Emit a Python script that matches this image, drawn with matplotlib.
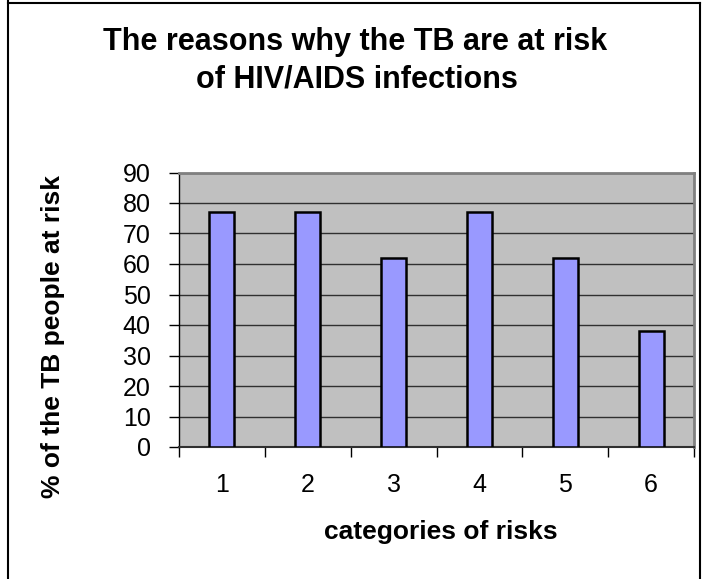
import matplotlib
matplotlib.use("Agg")
import matplotlib.pyplot as plt
from matplotlib.lines import Line2D

categories = ["1", "2", "3", "4", "5", "6"]
values = [77, 77, 62, 77, 62, 38]
yticks = [0, 10, 20, 30, 40, 50, 60, 70, 80, 90]
title_lines = ["The reasons why the TB are at risk", "of HIV/AIDS infections"]
xlabel = "categories of risks"
ylabel = "% of the TB people at risk"

plt.rcParams['font.family'] = ['Liberation Sans', 'DejaVu Sans']

W, H = 705, 579
fig = plt.figure(figsize=(W / 100, H / 100), dpi=100)
fig.patch.set_facecolor('white')

# chart outer border (left, top, right)
for xs, ys in [([8, 8], [0, 579]), ([8, 700], [2.5, 2.5]), ([700, 700], [2.5, 579])]:
    fig.add_artist(Line2D([x / W for x in xs], [1 - y / H for y in ys],
                          color='black', lw=1.5, transform=fig.transFigure))

left, right, top, bottom = 179, 694, 172.5, 447
ax = fig.add_axes([left / W, 1 - bottom / H, (right - left) / W, (bottom - top) / H])
ax.set_facecolor('#C0C0C0')

x = list(range(len(categories)))
ax.bar(x, values, width=0.29, color='#9999FF', edgecolor='black', linewidth=1.8, zorder=3)

ax.set_xlim(-0.5, len(categories) - 0.5)
ax.set_ylim(0, 90)
ax.set_yticks(yticks)
ax.set_yticklabels([str(t) for t in yticks], fontsize=18)
ax.yaxis.grid(True, color='#303030', lw=1.0, zorder=1)
ax.set_axisbelow(True)

ax.set_xticks([i + 0.5 for i in range(-1, len(categories))])
ax.set_xticklabels([])
ax.set_xticks(x, minor=True)
ax.set_xticklabels(categories, minor=True, fontsize=18)
ax.tick_params(axis='x', which='major', direction='out', length=7, width=1, color='black')
ax.tick_params(axis='x', which='minor', length=0, pad=19)
ax.tick_params(axis='y', direction='out', length=7, width=1, color='black', pad=13.5)

for s in ['top', 'right']:
    ax.spines[s].set_color('#808080')
    ax.spines[s].set_linewidth(2)
ax.spines['left'].set_color('black')
ax.spines['left'].set_linewidth(1)
ax.spines['bottom'].set_color('#303030')
ax.spines['bottom'].set_linewidth(1.5)

fig.text(355 / W, 1 - 50 / H, title_lines[0], ha='center', va='baseline', fontsize=22,
         fontweight='bold')
fig.text(357 / W, 1 - 87 / H, title_lines[1], ha='center', va='baseline', fontsize=22,
         fontweight='bold')
fig.text(441 / W, 1 - 532 / H, xlabel, ha='center', va='center', fontsize=19, fontweight='bold')
fig.text(53 / W, 1 - 337 / H, ylabel, ha='center', va='center', fontsize=19,
         fontweight='bold', rotation=90)

fig.savefig('out.png', dpi=100)
